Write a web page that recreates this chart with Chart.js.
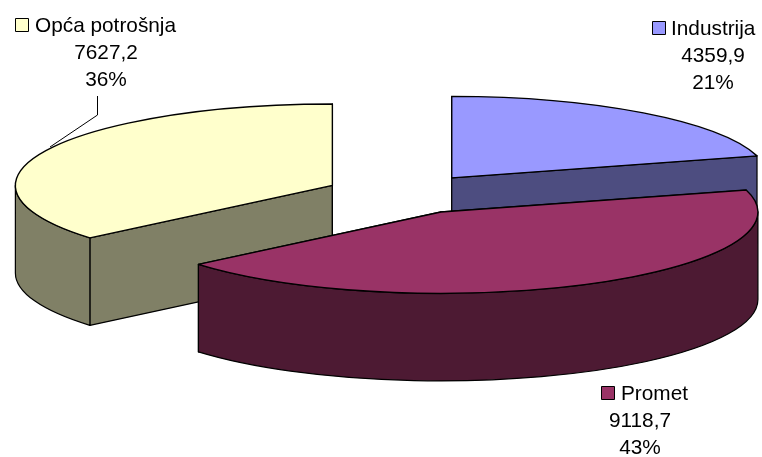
<!DOCTYPE html>
<html lang="hr">
  <head>
    <meta charset="UTF-8" />
    <title>Potrošnja</title>
    <script src="https://cdn.jsdelivr.net/npm/chart.js"></script>
    <style>
      body { margin: 0; background: #fff; }
      canvas { display: block; }
    </style>
  </head>
  <body>
    <canvas id="pieChart" width="762" height="457"></canvas>
    <script>
      const categories = ["Industrija", "Promet", "Opća potrošnja"];
      const values = [4359.9, 9118.7, 7627.2];
      const valueLabels = ["4359,9", "9118,7", "7627,2"];
      const percentLabels = ["21%", "43%", "36%"];
      const topColors = ["#9999ff", "#993366", "#ffffcc"];
      const sideColors = ["#4d4d80", "#4d1a33", "#808066"];

      const RADIUS = 317;
      const TILT = 0.257; // squash of the pie's circle into an ellipse
      const DEPTH = 87.5;
      const EXPLODE = 79;

      // key x, text x, first baseline, x of the centred value lines
      const labelSpots = [
        [652, 671, 35, 713],
        [601, 621, 400, 640],
        [15, 35, 32, 106],
      ];

      function sliceCenter(arc) {
        const mid = (arc.startAngle + arc.endAngle) / 2;
        return {
          x: arc.x + Math.cos(mid) * EXPLODE,
          y: arc.y + Math.sin(mid) * EXPLODE * TILT,
        };
      }

      function drawWalls(ctx, arc, i) {
        const c = sliceCenter(arc);
        const ry = RADIUS * TILT;
        ctx.fillStyle = sideColors[i];
        ctx.strokeStyle = "#000";
        ctx.lineWidth = 1.2;
        ctx.lineJoin = "round";

        [arc.startAngle, arc.endAngle].forEach((a) => {
          const ex = c.x + Math.cos(a) * RADIUS;
          const ey = c.y + Math.sin(a) * ry;
          ctx.beginPath();
          ctx.moveTo(c.x, c.y);
          ctx.lineTo(ex, ey);
          ctx.lineTo(ex, ey + DEPTH);
          ctx.lineTo(c.x, c.y + DEPTH);
          ctx.closePath();
          ctx.fill();
          ctx.stroke();
        });

        // only the front half of the rim can be seen
        const from = Math.max(arc.startAngle, 0);
        const to = Math.min(arc.endAngle, Math.PI);
        if (to > from) {
          ctx.beginPath();
          ctx.ellipse(c.x, c.y, RADIUS, ry, 0, from, to);
          ctx.ellipse(c.x, c.y + DEPTH, RADIUS, ry, 0, to, from, true);
          ctx.closePath();
          ctx.fill();
          ctx.stroke();
        }
      }

      function drawTop(ctx, arc) {
        const c = sliceCenter(arc);
        ctx.save();
        ctx.translate(c.x, c.y);
        ctx.scale(1, TILT);
        ctx.translate(-arc.x, -arc.y);
        arc.draw(ctx);
        ctx.restore();

        ctx.beginPath();
        ctx.moveTo(c.x, c.y);
        ctx.ellipse(c.x, c.y, RADIUS, RADIUS * TILT, 0, arc.startAngle, arc.endAngle);
        ctx.closePath();
        ctx.strokeStyle = "#000";
        ctx.lineWidth = 1.4;
        ctx.stroke();
      }

      function drawLabels(ctx) {
        ctx.font = "20.8px 'Liberation Sans', Arial, sans-serif";
        ctx.textBaseline = "alphabetic";
        categories.forEach((name, i) => {
          const [keyX, textX, base, midX] = labelSpots[i];
          ctx.fillStyle = topColors[i];
          ctx.strokeStyle = "#000";
          ctx.lineWidth = 1;
          ctx.fillRect(keyX + 0.5, base - 13.5, 13, 13);
          ctx.strokeRect(keyX + 0.5, base - 13.5, 13, 13);
          ctx.fillStyle = "#000";
          ctx.textAlign = "left";
          ctx.fillText(name, textX, base);
          ctx.textAlign = "center";
          ctx.fillText(valueLabels[i], midX, base + 27);
          ctx.fillText(percentLabels[i], midX, base + 54);
        });

        // leader line of the left label
        ctx.beginPath();
        ctx.moveTo(97.5, 96);
        ctx.lineTo(97.5, 115);
        ctx.lineTo(50, 147);
        ctx.strokeStyle = "#000";
        ctx.lineWidth = 1;
        ctx.stroke();
      }

      const pie3d = {
        id: "pie3d",
        beforeDatasetsDraw(chart) {
          const ctx = chart.ctx;
          const arcs = chart.getDatasetMeta(0).data;
          // back to front: left slice, right slice, then the one in front
          [2, 0, 1].forEach((i) => {
            drawWalls(ctx, arcs[i], i);
            drawTop(ctx, arcs[i]);
          });
          drawLabels(ctx);
          return false;
        },
      };

      new Chart(document.getElementById("pieChart"), {
        type: "pie",
        data: {
          labels: categories,
          datasets: [
            {
              data: values,
              backgroundColor: topColors,
              borderWidth: 0,
              radius: RADIUS,
            },
          ],
        },
        options: {
          responsive: false,
          animation: false,
          layout: { padding: { left: 46, bottom: 69 } },
          plugins: { legend: { display: false }, tooltip: { enabled: false } },
        },
        plugins: [pie3d],
      });
    </script>
  </body>
</html>
